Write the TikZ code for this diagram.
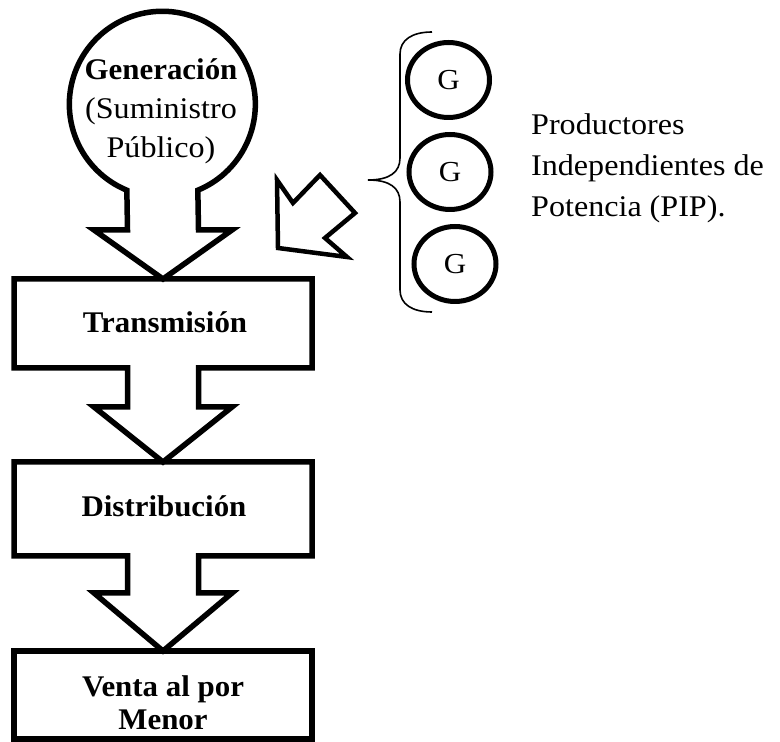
\documentclass[tikz,border=0pt]{standalone}
\usepackage{fontspec}
\newfontfamily\regfont{Liberation Serif}[FakeStretch=1.07]
\newfontfamily\boldfont{Liberation Serif}[FakeStretch=1.03]
\usetikzlibrary{shapes.geometric,calc}

\begin{document}
\begin{tikzpicture}[x=1pt,y=1pt,
  outline/.style={line width=5.5pt, line join=miter},
  stagebox/.style={rectangle, minimum width=298pt, inner sep=0pt, outer sep=0pt},
  stagetext/.style={inner sep=0pt, align=center, font=\boldfont\bfseries\fontsize{30}{33}\selectfont},
  plaintext/.style={inner sep=0pt, font=\regfont\fontsize{30}{41}\selectfont},
  genunit/.style={ellipse, draw, line width=5pt, minimum width=82pt, minimum height=75pt,
    inner sep=0pt, font=\regfont\fontsize{29}{33}\selectfont},
  brace/.style={line width=1.6pt}
]
\useasboundingbox (0,0) rectangle (780,742);

% public-supply generation: circle feeding a block arrow
\node[circle, minimum size=186pt, inner sep=0pt, outer sep=0pt] (gen) at (163,638) {};
\node[stagetext, font=\regfont\fontsize{30}{39}\selectfont] (gentext) at (161,631)
  {{\boldfont\bfseries Generación}\\(Suministro\\Público)};

% stage boxes
\node[stagebox, minimum height=89pt] (tr) at (163,418.5) {};
\node[stagebox, minimum height=94pt] (dist) at (163,233) {};
\node[stagebox, minimum height=88pt] (venta) at (163,47) {};

\node[stagetext] (trtext) at (165,420) {Transmisión};
\node[stagetext] (disttext) at (164,236) {Distribución};
\node[stagetext] (ventatext) at (163,39) {Venta al por\\Menor};

% circle + arrow into Transmisión
\draw[outline] (gen.292.44) arc[start angle=-67.56, end angle=247.56, radius=93pt]
  -- (127.5,512) -- (94,512) -- (tr.north) -- (232,512) -- (198.5,512) -- cycle;

% Transmisión box + arrow into Distribución
\draw[outline] (198.5,374) -- (tr.south east) -- (tr.north east) -- (tr.north west)
  -- (tr.south west) -- (127.5,374) -- (127.5,335) -- (94,335) -- (dist.north)
  -- (232,335) -- (198.5,335) -- cycle;

% Distribución box + arrow into Venta
\draw[outline] (198.5,186) -- (dist.south east) -- (dist.north east) -- (dist.north west)
  -- (dist.south west) -- (127.5,186) -- (127.5,149) -- (94,149) -- (venta.north)
  -- (232,149) -- (198.5,149) -- cycle;

% Venta box
\draw[outline] (venta.south west) rectangle (venta.north east);

% independent producers
\node[genunit] (g1) at (448.5,662) {G};
\node[genunit] (g2) at (450,570) {G};
\node[genunit] (g3) at (455,478) {G};

\draw[brace] (432,710) .. controls (412,710) and (400,702) .. (400,688)
  -- (400,584) .. controls (400,570) and (390,562) .. (368,562)
  .. controls (390,562) and (400,554) .. (400,540)
  -- (400,452) .. controls (400,438) and (412,430) .. (432,430);

\node[plaintext, align=left, anchor=west] (piptext) at (531,573.5)
  {Productores\\Independientes de\\Potencia (PIP).};

% hollow arrow from the producers toward the grid
\draw[line width=4.5pt, line join=miter] (277,562) -- (293,539) -- (320,567) -- (355,529)
  -- (325,504) -- (347,485) -- (278,494) -- cycle;
\end{tikzpicture}
\end{document}
